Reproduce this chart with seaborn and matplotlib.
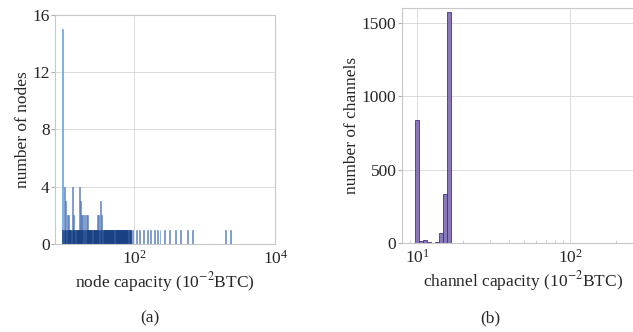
import matplotlib
matplotlib.use("Agg")
import matplotlib.pyplot as plt
import seaborn as sns
import numpy as np
import pandas as pd
from matplotlib.ticker import LogLocator, FixedLocator

# (a) node capacity (10^-2 BTC) and how many nodes fall in each bin
node_cap = [9.8, 10.3, 10.6, 11.2, 11.6, 12.0, 12.6, 13.3, 13.8, 14.3, 14.9, 15.6, 16.1,
            16.6, 17.2, 17.8, 18.5, 19.6, 20.8, 21.9, 23.0, 23.8, 24.6, 25.5, 26.4,
            27.3, 28.2, 29.1, 30.2, 31.3, 33.0, 34.6, 36.5, 37.8, 39.1, 40.4, 41.8,
            43.3, 44.8, 46.3, 47.9, 49.6, 51.3, 53.1, 54.9, 56.8, 58.8, 60.8, 62.9,
            65.1, 67.4, 69.7, 72.1, 74.6, 77.2, 79.9, 82.6, 85.5, 88.4, 96,
            109, 121, 136, 152, 169, 190, 210, 234,
            275, 324, 381, 449, 560, 658, 1945, 2300]
node_cnt = [15, 4, 3, 2, 2, 1, 1, 4, 2, 1, 1, 1, 1,
            4, 3, 2, 2, 2, 2, 2, 1, 1, 1, 1, 1,
            1, 1, 1, 2, 2, 3, 2, 1, 1, 1, 1, 1,
            1, 1, 1, 1, 1, 1, 1, 1, 1, 1, 1, 1,
            1, 1, 1, 1, 1, 1, 1, 1, 1, 1, 1,
            1, 1, 1, 1, 1, 1, 1, 1,
            1, 1, 1, 1, 1, 1, 1, 1]

# (b) channel capacity (10^-2 BTC) and number of channels
chan_cap = [10.0, 10.8, 11.5, 12.2, 13.3, 14.3, 15.2, 16.4, 19.0, 24.0, 35.0]
chan_cnt = [840, 12, 18, 10, 6, 65, 334, 1570, 3, 2, 2]

df_node = pd.DataFrame({"cap": node_cap, "n": node_cnt})
df_node["seen"] = np.minimum(df_node["n"], 1)
df_chan = pd.DataFrame({"cap": chan_cap, "n": chan_cnt})

sns.set_style("whitegrid", {"grid.color": "#dcdcdc", "axes.edgecolor": "#c8c8c8"})
plt.rcParams["font.family"] = ["Liberation Serif", "DejaVu Serif"]
plt.rcParams["mathtext.fontset"] = "stix"
fs = 12.5

fig = plt.figure(figsize=(6.33, 3.32), dpi=100)
ax1 = fig.add_axes([0.087, 0.265, 0.348, 0.69])
ax2 = fig.add_axes([0.635, 0.268, 0.381, 0.708])

# left histogram (bin range in log10 units)
sns.histplot(data=df_node, x="cap", weights="n", bins=190, binrange=(0.98, 3.6),
             log_scale=True, ax=ax1, color="#6e93cc", alpha=0.7,
             edgecolor="#4a72b4", linewidth=0.4)
tallest = max(ax1.patches, key=lambda p: p.get_height())
tallest.set_facecolor("#5e9ed6")
tallest.set_edgecolor("#5e9ed6")
tallest.set_alpha(1)
# base layer: every occupied bin up to one node, drawn dark
sns.histplot(data=df_node[df_node["cap"] < 90], x="cap", weights="seen", bins=190,
             binrange=(0.98, 3.6), log_scale=True, ax=ax1, color="#173f82",
             alpha=1, edgecolor="#173f82", linewidth=0.4)
ax1.set_xlim(7.57, 1e4)
ax1.set_ylim(0, 16)
ax1.set_yticks([0, 4, 8, 12, 16])
ax1.xaxis.set_major_locator(FixedLocator([1e2, 1e4]))
ax1.xaxis.set_minor_locator(FixedLocator([]))
ax1.set_xlabel(r"node capacity (10$^{-2}$BTC)", fontsize=fs)
ax1.set_ylabel("number of nodes", fontsize=fs)

# right histogram
sns.histplot(data=df_chan, x="cap", weights="n", bins=66, binrange=(0.987, 2.703),
             log_scale=True, ax=ax2, color="#7560b2", alpha=0.85,
             edgecolor="#4a2e8e", linewidth=0.6)
ax2.set_xlim(7.95, 300)
ax2.set_ylim(0, 1600)
ax2.set_yticks([0, 500, 1000, 1500])
ax2.xaxis.set_major_locator(FixedLocator([1e1, 1e2]))
ax2.xaxis.set_minor_locator(LogLocator(base=10, subs=np.arange(2, 10)))
ax2.tick_params(axis="x", which="minor", direction="in", length=2, color="#c8c8c8", bottom=True)
ax2.set_xlabel(r"channel capacity (10$^{-2}$BTC)", fontsize=fs)
ax2.set_ylabel("number of channels", fontsize=fs)

for ax in (ax1, ax2):
    ax.tick_params(labelsize=fs, pad=1)
    ax.tick_params(axis="y", which="major", left=True, length=3, color="#b0b0b0")
    ax.grid(True, which="major", linewidth=0.7)
    ax.grid(False, which="minor")
    ax.xaxis.labelpad = 1
    ax.yaxis.labelpad = 1

fig.text(0.237, 0.03, "(a)", fontsize=fs, ha="center")
fig.text(0.774, 0.03, "(b)", fontsize=fs, ha="center")

fig.savefig("out.png", dpi=100)
